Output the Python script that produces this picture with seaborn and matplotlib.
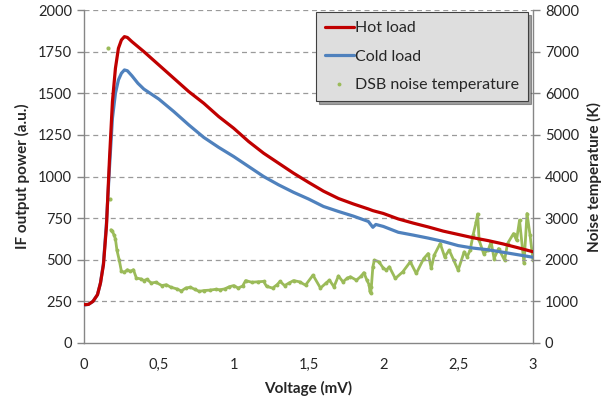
import numpy as np
import pandas as pd
import matplotlib
matplotlib.use("Agg")
import matplotlib.pyplot as plt
from matplotlib.lines import Line2D
from matplotlib.ticker import FuncFormatter
import seaborn as sns

# ---------------- data ----------------
voltage = [0, 0.03, 0.06, 0.09, 0.11, 0.13, 0.15, 0.17, 0.19, 0.21, 0.23, 0.25, 0.27, 0.29,
           0.32, 0.36, 0.40, 0.45, 0.50, 0.6, 0.7, 0.8, 0.9, 1.0, 1.1, 1.2, 1.3, 1.4, 1.5,
           1.6, 1.7, 1.8, 1.9, 1.93, 1.95, 2.0, 2.1, 2.2, 2.3, 2.4, 2.5, 2.6, 2.7, 2.8, 2.9, 3.0]
hot_load = [230, 232, 250, 290, 360, 470, 700, 1100, 1450, 1650, 1770, 1820, 1840, 1835,
            1810, 1780, 1750, 1710, 1670, 1590, 1510, 1440, 1360, 1290, 1210, 1140, 1080, 1020, 965,
            912, 868, 835, 805, 795, 790, 778, 745, 720, 697, 672, 652, 632, 615, 595, 572, 548]
cold_load = [228, 232, 250, 290, 360, 480, 720, 1050, 1350, 1500, 1580, 1620, 1640, 1635,
             1605, 1560, 1525, 1495, 1465, 1390, 1310, 1235, 1175, 1120, 1060, 1000, 950, 905, 865,
             820, 790, 762, 730, 695, 712, 700, 665, 648, 630, 610, 585, 570, 560, 545, 530, 515]

tn_voltage = [0.18, 0.19, 0.20, 0.21, 0.22, 0.235, 0.25, 0.27, 0.29, 0.31, 0.33, 0.35, 0.38, 0.40,
              0.42, 0.45, 0.48, 0.52, 0.55, 0.58, 0.62, 0.65, 0.68, 0.71, 0.74, 0.77, 0.80, 0.84,
              0.88, 0.91, 0.94, 0.97, 1.00, 1.03, 1.06, 1.08, 1.12, 1.16, 1.20, 1.22, 1.26, 1.29,
              1.31, 1.34, 1.37, 1.40, 1.44, 1.48, 1.53, 1.58, 1.62, 1.64, 1.67, 1.70, 1.73, 1.76,
              1.78, 1.82, 1.85, 1.87, 1.89, 1.905, 1.91, 1.915, 1.92, 1.93, 1.94, 1.97, 2.00, 2.02,
              2.04, 2.08, 2.13, 2.18, 2.22, 2.27, 2.30, 2.32, 2.34, 2.38, 2.41, 2.44, 2.47, 2.50,
              2.54, 2.56, 2.58, 2.60, 2.62, 2.63, 2.64, 2.67, 2.70, 2.72, 2.74, 2.77, 2.81, 2.83,
              2.87, 2.89, 2.91, 2.94, 2.96, 2.98, 3.00]
tn_kelvin = [2720, 2680, 2600, 2500, 2230, 2000, 1720, 1700, 1760, 1720, 1760, 1560, 1540, 1500,
             1530, 1440, 1460, 1380, 1400, 1340, 1300, 1250, 1320, 1340, 1290, 1240, 1260, 1270,
             1290, 1280, 1300, 1350, 1380, 1320, 1370, 1500, 1460, 1470, 1480, 1360, 1320, 1400,
             1480, 1380, 1440, 1500, 1470, 1390, 1630, 1320, 1450, 1510, 1350, 1610, 1470, 1560,
             1590, 1510, 1600, 1690, 1510, 1400, 1250, 1200, 1350, 1830, 1990, 1950, 1800, 1750,
             1830, 1550, 1710, 1950, 1670, 2030, 2150, 1790, 2110, 2390, 2070, 2230, 1990, 1750,
             2190, 2070, 2230, 2600, 2900, 3100, 2470, 2150, 2230, 2430, 2030, 2270, 1990, 2390,
             2630, 2470, 2950, 1910, 3110, 2600, 2000]
outlier_voltage = [0.160, 0.172]
outlier_kelvin = [7080, 3460]

x_ticks = [0, 0.5, 1, 1.5, 2, 2.5, 3]
left_ticks = [0, 250, 500, 750, 1000, 1250, 1500, 1750, 2000]
right_ticks = [0, 1000, 2000, 3000, 4000, 5000, 6000, 7000, 8000]

# ---------------- style ----------------
sns.set_style("white")
plt.rcParams["font.family"] = ["Lato", "DejaVu Sans"]

RED = "#C00000"
BLUE = "#4F81BD"
GREEN = "#9BBB59"
GRAY = "#868686"

power_df = pd.DataFrame({"V": voltage, "hot": hot_load, "cold": cold_load})
tn_df = pd.DataFrame({"V": tn_voltage, "T": tn_kelvin})
out_df = pd.DataFrame({"V": outlier_voltage, "T": outlier_kelvin})

fig = plt.figure(figsize=(6.16, 4.01), dpi=100)
ax = fig.add_axes([84 / 616, 1 - 343 / 401, 449 / 616, 333 / 401])
ax2 = ax.twinx()

ax.set_ylim(0, 2000)
ax.set_xlim(0, 3)
ax.set_yticks(left_ticks)
ax.set_xticks(x_ticks)
for t in left_ticks[1:]:
    ax.axhline(t, color="#9A9A9A", lw=0.9, ls=(0, (4, 3)), zorder=0)

sns.lineplot(data=tn_df, x="V", y="T", ax=ax2, color=GREEN, lw=2.0, marker="o",
             markersize=2.8, markeredgewidth=0, sort=False, estimator=None, zorder=2)
sns.scatterplot(data=out_df, x="V", y="T", ax=ax2, color=GREEN, s=9, linewidth=0, zorder=2)

sns.lineplot(data=power_df, x="V", y="cold", ax=ax, color=BLUE, lw=2.3, sort=False,
             estimator=None, zorder=3)
sns.lineplot(data=power_df, x="V", y="hot", ax=ax, color=RED, lw=2.3, sort=False,
             estimator=None, zorder=4)

ax.set_zorder(ax2.get_zorder() + 1)
ax.patch.set_visible(False)

ax2.set_ylim(0, 8000)
ax2.set_yticks(right_ticks)

fmt = FuncFormatter(lambda v, p: ("%g" % v).replace(".", ","))
ax.xaxis.set_major_formatter(fmt)

for a in (ax, ax2):
    a.spines["top"].set_visible(False)
    for s in ("left", "right", "bottom"):
        a.spines[s].set_color(GRAY)
        a.spines[s].set_linewidth(1.0)
    a.tick_params(axis="both", which="major", length=5, width=1.0, color=GRAY,
                  labelsize=10.5, labelcolor="#262626", direction="out")
ax.spines["right"].set_visible(False)
ax2.spines["left"].set_visible(False)
ax2.spines["bottom"].set_visible(False)
ax.tick_params(axis="x", pad=6)

ax.set_xlabel("Voltage (mV)", fontsize=11, fontweight="bold", labelpad=6)
ax.set_ylabel("IF output power (a.u.)", fontsize=11, fontweight="bold", labelpad=6)
ax2.set_ylabel("Noise temperature (K)", fontsize=11, fontweight="bold", labelpad=6)

handles = [
    Line2D([], [], color=RED, lw=2.3),
    Line2D([], [], color=BLUE, lw=2.3),
    Line2D([], [], color=GREEN, ls="", marker="o", ms=2.8, markeredgewidth=0),
]
labels = ["Hot load", "Cold load", "DSB noise temperature"]
leg = ax.legend(handles, labels, loc="upper right", bbox_to_anchor=(0.989, 0.993),
                frameon=True, fancybox=False, shadow=True, fontsize=11.5,
                handlelength=1.8, handletextpad=0.1, labelspacing=0.9,
                borderpad=0.55, borderaxespad=0)
leg.get_frame().set_facecolor("#DEDEDE")
leg.get_frame().set_edgecolor("#404040")
leg.get_frame().set_linewidth(0.8)
leg.set_zorder(10)

fig.savefig("out.png", dpi=100)
